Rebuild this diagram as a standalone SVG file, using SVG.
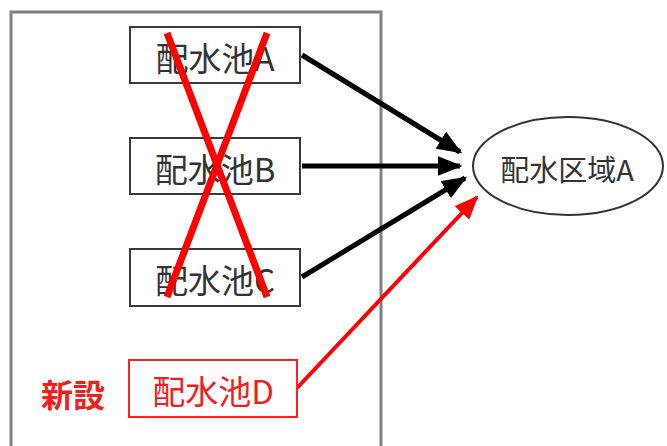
<svg xmlns="http://www.w3.org/2000/svg" width="667" height="446" viewBox="0 0 667 446">
<style>
.box{fill:#fff;stroke:#3a3a3a;stroke-width:2}
.rbox{fill:#fff;stroke:#ff2020;stroke-width:2}
.t{font-family:"Noto Sans CJK JP","Liberation Sans",sans-serif;font-size:33px;fill:#333;text-anchor:middle;dominant-baseline:central}
.rt{fill:#f02020}
.k{stroke:#000;stroke-width:5;fill:none}
.r{stroke:#ff0000;stroke-width:4;fill:none}
</style>
<defs>
<marker id="ak" markerWidth="5" markerHeight="4" refX="4.5" refY="2" orient="auto" markerUnits="strokeWidth"><path d="M0,0 L5,2 L0,4 Z" fill="#000"/></marker>
<marker id="ar" markerWidth="6" markerHeight="5" refX="5.5" refY="2.5" orient="auto" markerUnits="strokeWidth"><path d="M0,0 L6,2.5 L0,5 Z" fill="#ff0000"/></marker>
</defs>
<rect x="11" y="12" width="370" height="450" fill="#fff" stroke="#808080" stroke-width="3"/>
<g id="connectors">
<line class="k" x1="302" y1="55" x2="460" y2="152" marker-end="url(#ak)"/>
<line class="k" x1="302" y1="166" x2="460" y2="166" marker-end="url(#ak)"/>
<line class="k" x1="302" y1="277" x2="465" y2="178" marker-end="url(#ak)"/>
<line class="r" x1="297" y1="388" x2="477" y2="197" marker-end="url(#ar)"/>
</g>
<g id="poolA"><rect class="box" x="130" y="27" width="170" height="56"/><text class="t" x="215" y="57">配水池A</text></g>
<g id="poolB"><rect class="box" x="130" y="138" width="170" height="56"/><text class="t" x="215" y="168">配水池B</text></g>
<g id="poolC"><rect class="box" x="130" y="249" width="170" height="57"/><text class="t" x="215" y="279">配水池C</text></g>
<g id="poolD"><rect class="rbox" x="129" y="360" width="168" height="57"/><text class="t rt" x="213" y="390">配水池D</text></g>
<g id="newLabel"><text class="t rt" x="73" y="393" style="font-weight:bold;font-size:32px">新設</text></g>
<g id="cross">
<line x1="167" y1="33" x2="267" y2="297" stroke="#ff0000" stroke-width="7"/>
<line x1="267" y1="33" x2="167" y2="297" stroke="#ff0000" stroke-width="7"/>
</g>
<g id="areaA"><ellipse cx="568" cy="166" rx="95" ry="49" fill="#fff" stroke="#333" stroke-width="2"/><text class="t" x="567" y="168" style="font-size:29px">配水区域A</text></g>
</svg>
